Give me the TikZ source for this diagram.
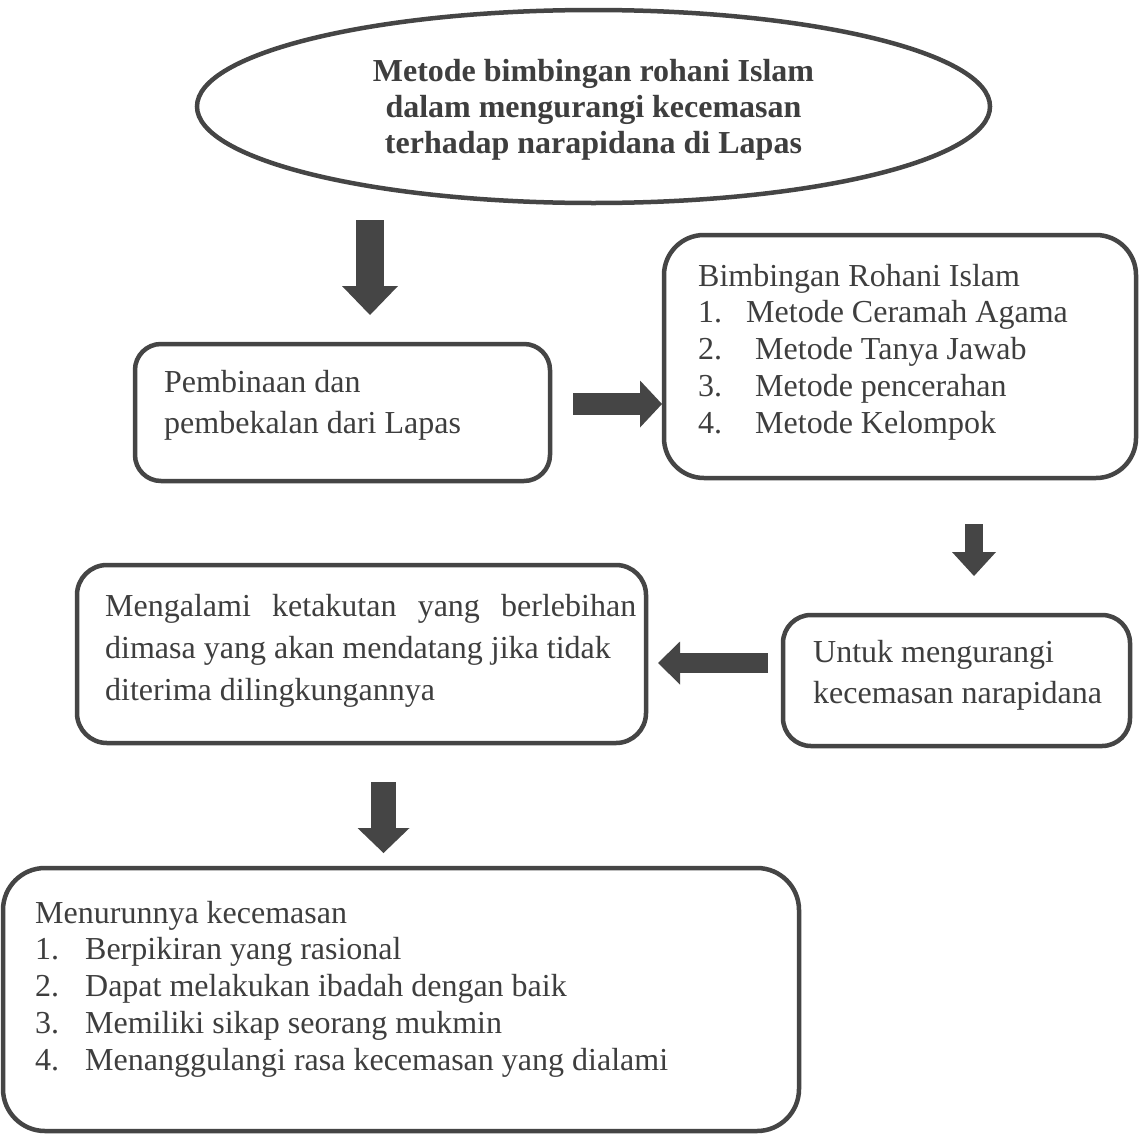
\documentclass[tikz,border=0pt]{standalone}
\usepackage{fontspec}
\setmainfont{Liberation Serif}
\usetikzlibrary{arrows.meta,shapes.geometric}
\definecolor{ln}{HTML}{454545}
\definecolor{tx}{HTML}{3E3E3E}
\tikzset{
  box/.style={draw=ln, line width=4.5pt, rounded corners=#1, inner sep=0pt, fill=white},
  box/.default=28pt,
  txt/.style={text=tx, inner sep=0pt, align=left, anchor=base west},
  blk/.style n args={3}{draw=ln, line width=#1, -{Triangle[width=#2, length=#3, line width=0pt]}},
}
\begin{document}
\begin{tikzpicture}[x=1pt,y=-1pt]
\useasboundingbox (0,0) rectangle (1139,1135);
\fill[white] (0,0) rectangle (1139,1135);

% title ellipse
\node[draw=ln, line width=4.5pt, ellipse, minimum width=793pt, minimum height=193pt, inner sep=0pt] (ell) at (593.5,106.5) {};
\node[text=tx, inner sep=0pt, align=center, anchor=base, font=\bfseries\fontsize{32}{36}\selectfont] (ellt) at (593.5,153)
 {Metode bimbingan rohani Islam\\dalam mengurangi kecemasan\\terhadap narapidana di Lapas};

% boxes
\node[box=26pt, minimum width=415pt, minimum height=137pt] (pemb) at (342.5,412.5) {};
\node[box=40pt, minimum width=472pt, minimum height=243pt] (bimb) at (900,356.5) {};
\node[box=28pt, minimum width=347pt, minimum height=131pt] (untuk) at (956.5,680.5) {};
\node[box=30pt, minimum width=569pt, minimum height=178pt] (meng) at (361.5,654) {};
\node[box=42pt, minimum width=796pt, minimum height=263pt] (turun) at (401,999.5) {};

% texts (anchor = baseline of last line)
\node[txt, font=\fontsize{32}{41}\selectfont] (pembt) at (164,433.5)
 {Pembinaan dan\\pembekalan dari Lapas};
\node[txt, font=\fontsize{32}{36.7}\selectfont] (bimbt) at (698,433)
 {Bimbingan Rohani Islam\\
  \makebox[48pt][l]{1.}Metode Ceramah Agama\\
  \makebox[57pt][l]{2.}Metode Tanya Jawab\\
  \makebox[57pt][l]{3.}Metode pencerahan\\
  \makebox[57pt][l]{4.}Metode Kelompok};
\node[txt, font=\fontsize{32}{41}\selectfont] (untukt) at (813,703)
 {Untuk mengurangi\\kecemasan narapidana};
\node[txt, font=\fontsize{32}{42}\selectfont] (mengt) at (105,700)
 {\hbox to 531pt{Mengalami\hfill ketakutan\hfill yang\hfill berlebihan}\\
  dimasa yang akan mendatang jika tidak\\
  diterima dilingkungannya};
\node[txt, font=\fontsize{32}{36.7}\selectfont] (turunt) at (35,1070)
 {Menurunnya kecemasan\\
  \makebox[50pt][l]{1.}Berpikiran yang rasional\\
  \makebox[50pt][l]{2.}Dapat melakukan ibadah dengan baik\\
  \makebox[50pt][l]{3.}Memiliki sikap seorang mukmin\\
  \makebox[50pt][l]{4.}Menanggulangi rasa kecemasan yang dialami};

% block arrows
\coordinate (a1s) at (370,220);   \coordinate (a1e) at (370,315);
\coordinate (a2s) at (573,404);   \coordinate (a2e) at (662,404);
\coordinate (a3s) at (974,524);   \coordinate (a3e) at (974,576);
\coordinate (a4s) at (768,663);   \coordinate (a4e) at (658,663);
\coordinate (a5s) at (383.5,782); \coordinate (a5e) at (383.5,853);
\draw[blk={28pt}{56pt}{29pt}] (a1s) -- (a1e);
\draw[blk={22pt}{47pt}{22pt}] (a2s) -- (a2e);
\draw[blk={18pt}{44pt}{24pt}] (a3s) -- (a3e);
\draw[blk={20pt}{43pt}{22pt}] (a4s) -- (a4e);
\draw[blk={25pt}{52pt}{25pt}] (a5s) -- (a5e);
\end{tikzpicture}
\end{document}
